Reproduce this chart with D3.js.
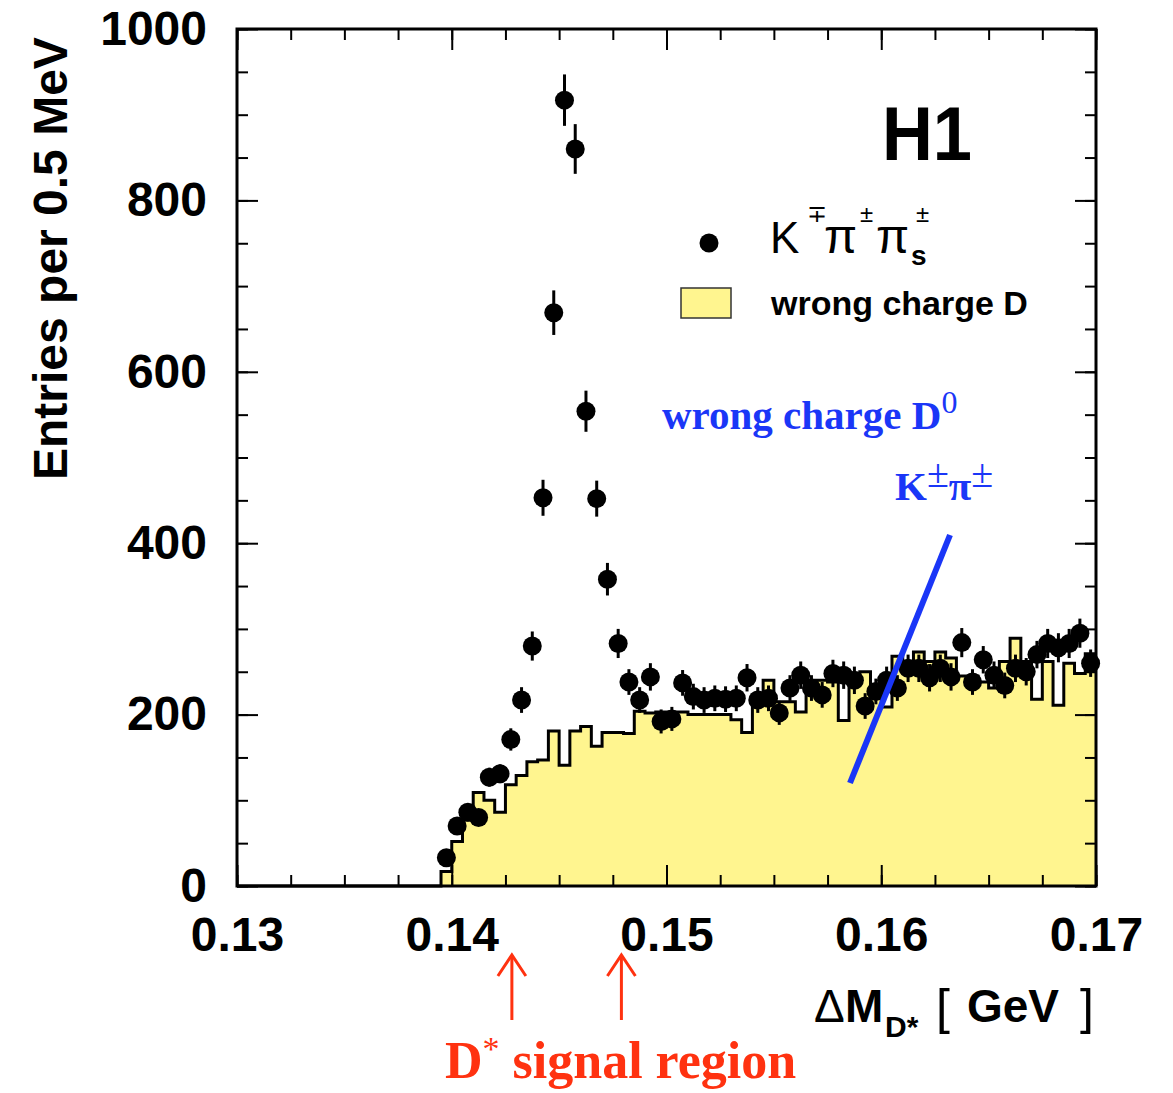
<!DOCTYPE html>
<html>
<head>
<meta charset="utf-8">
<script src="https://cdn.jsdelivr.net/npm/d3@7"></script>
<style>
  html, body { margin: 0; padding: 0; background: #fff; }
  svg { display: block; }
</style>
</head>
<body>
<svg id="chart" width="1173" height="1093"></svg>
<script>
// ΔM(D*) spectrum in 0.5 MeV bins, first bin starting at 0.1395 GeV
const binStart = 0.1395;
const binWidth = 0.0005;

// right-charge K∓π±πs± candidates per bin
const rightCharge = [
  33, 70, 86, 80, 127, 131, 171, 217, 280, 453,
  669, 917, 860, 554, 452, 358, 283, 238, 217, 244,
  192, 195, 237, 221, 217, 219, 218, 219, 243, 217,
  219, 202, 231, 246, 231, 223, 248, 246, 240, 210,
  227, 240, 231, 254, 254, 243, 254, 244, 284, 238,
  264, 246, 234, 254, 250, 270, 283, 278, 283, 295,
  260
];
// statistical uncertainty of each bin
const rightChargeErr = [
  6, 8, 9, 9, 11, 11, 13, 15, 17, 21,
  26, 30, 29, 24, 21, 19, 17, 15, 15, 16,
  14, 14, 15, 15, 15, 15, 15, 15, 16, 15,
  15, 14, 15, 16, 15, 15, 16, 16, 16, 15,
  15, 16, 15, 16, 16, 16, 16, 16, 17, 15,
  16, 16, 15, 16, 16, 16, 17, 17, 17, 17,
  16
];
// wrong-charge D0 (K±π±) combinations per bin
const wrongCharge = [
  17, 52, 77, 109, 100, 86, 118, 129, 145, 147,
  181, 141, 181, 186, 163, 179, 179, 178, 204, 202,
  203, 203, 203, 200, 200, 200, 200, 194, 179, 220,
  240, 215, 215, 203, 240, 240, 238, 193, 245, 250,
  228, 209, 268, 262, 273, 262, 273, 266, 245, 245,
  238, 231, 262, 289, 262, 218, 262, 211, 260, 248,
  271
];

const xTickLabels = [0.13, 0.14, 0.15, 0.16, 0.17];
const yTickLabels = [0, 200, 400, 600, 800, 1000];
const xMinorStep = 0.0025;
const yMinorStep = 50;
// D* signal window marked below the axis
const signalRegion = [0.1428, 0.1479];

const sans = "'Liberation Sans', Arial, Helvetica, sans-serif";
const serif = "'Liberation Serif', 'Times New Roman', serif";
const yellow = "#fff58f";
const blue = "#1a36f7";
const red = "#ff3210";

const svg = d3.select("#chart");
const plot = { left: 237, right: 1096, top: 29, bottom: 886 };

const x = d3.scaleLinear().domain([0.13, 0.17]).range([plot.left, plot.right]);
const y = d3.scaleLinear().domain([0, 1000]).range([plot.bottom, plot.top]);

// ---- wrong-charge histogram ----
const lastBin = wrongCharge.length - 1;
const histPts = wrongCharge.map((v, i) => [binStart + i * binWidth, v]);
histPts.push([binStart + wrongCharge.length * binWidth, wrongCharge[lastBin]]);

svg.append("path")
  .datum(histPts)
  .attr("fill", yellow)
  .attr("d", d3.area().curve(d3.curveStepAfter)
    .x(d => x(d[0])).y0(y(0)).y1(d => y(d[1])));

const outlinePts = [[0.13, 0], [binStart, 0]].concat(histPts);
svg.append("path")
  .datum(outlinePts)
  .attr("fill", "none")
  .attr("stroke", "#000")
  .attr("stroke-width", 3)
  .attr("d", d3.line().curve(d3.curveStepAfter).x(d => x(d[0])).y(d => y(d[1])));

// ---- axes: ticks on all four sides, pointing inwards ----
const xMinor = d3.range(0, Math.round(0.04 / xMinorStep) + 1).map(i => 0.13 + i * xMinorStep);
const yMinor = d3.range(0, 1000 + 1, yMinorStep);

function styleAxis(g) {
  g.select(".domain").remove();
  g.selectAll(".tick line").attr("stroke", "#000").attr("stroke-width", 2);
  g.selectAll(".tick text")
    .attr("fill", "#000")
    .attr("font-family", sans)
    .attr("font-weight", "bold")
    .attr("font-size", 48);
}

svg.append("g").attr("transform", `translate(0,${plot.bottom})`)
  .call(d3.axisBottom(x).tickValues(xMinor).tickSize(-11).tickFormat(""))
  .call(styleAxis);
svg.append("g").attr("transform", `translate(0,${plot.bottom})`)
  .call(d3.axisBottom(x).tickValues(xTickLabels).tickSize(-21).tickPadding(31).tickFormat(d3.format(".2f")))
  .call(styleAxis);
svg.append("g").attr("transform", `translate(0,${plot.top})`)
  .call(d3.axisTop(x).tickValues(xMinor).tickSize(-11).tickFormat(""))
  .call(styleAxis);
svg.append("g").attr("transform", `translate(0,${plot.top})`)
  .call(d3.axisTop(x).tickValues(xTickLabels).tickSize(-21).tickFormat(""))
  .call(styleAxis);

svg.append("g").attr("transform", `translate(${plot.left},0)`)
  .call(d3.axisLeft(y).tickValues(yMinor).tickSize(-11).tickFormat(""))
  .call(styleAxis);
svg.append("g").attr("transform", `translate(${plot.left},0)`)
  .call(d3.axisLeft(y).tickValues(yTickLabels).tickSize(-21).tickPadding(30).tickFormat(d3.format("d")))
  .call(styleAxis);
svg.append("g").attr("transform", `translate(${plot.right},0)`)
  .call(d3.axisRight(y).tickValues(yMinor).tickSize(-11).tickFormat(""))
  .call(styleAxis);
svg.append("g").attr("transform", `translate(${plot.right},0)`)
  .call(d3.axisRight(y).tickValues(yTickLabels).tickSize(-21).tickFormat(""))
  .call(styleAxis);

// frame
svg.append("rect")
  .attr("x", plot.left).attr("y", plot.top)
  .attr("width", plot.right - plot.left).attr("height", plot.bottom - plot.top)
  .attr("fill", "none").attr("stroke", "#000").attr("stroke-width", 3);

// ---- right-charge data points with error bars ----
const pts = rightCharge.map((v, i) => ({ m: binStart + (i + 0.5) * binWidth, n: v, e: rightChargeErr[i] }));
const dataG = svg.append("g");
dataG.selectAll("line.err").data(pts).join("line")
  .attr("class", "err")
  .attr("x1", d => x(d.m)).attr("x2", d => x(d.m))
  .attr("y1", d => y(d.n - d.e)).attr("y2", d => y(d.n + d.e))
  .attr("stroke", "#000").attr("stroke-width", 3);
dataG.selectAll("circle").data(pts).join("circle")
  .attr("cx", d => x(d.m)).attr("cy", d => y(d.n)).attr("r", 9.5)
  .attr("fill", "#000");

// ---- experiment label ----
svg.append("text").attr("x", 882).attr("y", 160)
  .attr("font-family", sans).attr("font-weight", "bold").attr("font-size", 76)
  .attr("textLength", 90).attr("lengthAdjust", "spacingAndGlyphs")
  .text("H1");

// ---- legend ----
svg.append("circle").attr("cx", 709).attr("cy", 243).attr("r", 9.5).attr("fill", "#000");
const legendParts = [
  { t: "K", x: 770, y: 253, s: 44, w: "normal" },
  { t: "∓", x: 807, y: 222, s: 24, w: "normal" },
  { t: "π", x: 824, y: 253, s: 48, w: "normal" },
  { t: "±", x: 860, y: 222, s: 24, w: "normal" },
  { t: "π", x: 876, y: 253, s: 48, w: "normal" },
  { t: "s", x: 911, y: 265, s: 28, w: "bold" },
  { t: "±", x: 916, y: 222, s: 24, w: "normal" }
];
svg.append("g").selectAll("text").data(legendParts).join("text")
  .attr("x", d => d.x).attr("y", d => d.y)
  .attr("font-family", sans).attr("font-size", d => d.s).attr("font-weight", d => d.w)
  .text(d => d.t);

svg.append("rect").attr("x", 681).attr("y", 288).attr("width", 50).attr("height", 30)
  .attr("fill", yellow).attr("stroke", "#333").attr("stroke-width", 1.5);
svg.append("text").attr("x", 771).attr("y", 315)
  .attr("font-family", sans).attr("font-weight", "bold").attr("font-size", 34)
  .text("wrong charge D");

// ---- blue annotation ----
const ann = svg.append("text").attr("x", 662).attr("y", 429)
  .attr("font-family", serif).attr("font-weight", "bold").attr("font-size", 41).attr("fill", blue);
ann.append("tspan").text("wrong charge D");
ann.append("tspan").attr("font-weight", "normal").attr("font-size", 32).attr("dy", -16).text("0");

const kpi = svg.append("text").attr("x", 895).attr("y", 500)
  .attr("font-family", serif).attr("font-weight", "bold").attr("font-size", 41).attr("fill", blue);
kpi.append("tspan").text("K");
kpi.append("tspan").attr("font-weight", "normal").attr("font-size", 40).attr("dy", -13).text("±");
kpi.append("tspan").attr("font-size", 41).attr("dy", 13).text("π");
kpi.append("tspan").attr("font-weight", "normal").attr("font-size", 40).attr("dy", -13).text("±");

svg.append("line")
  .attr("x1", 850).attr("y1", 783).attr("x2", 950).attr("y2", 535)
  .attr("stroke", blue).attr("stroke-width", 6);

// ---- axis titles ----
svg.append("text")
  .attr("transform", "translate(67,480) rotate(-90)")
  .attr("font-family", sans).attr("font-weight", "bold").attr("font-size", 48)
  .text("Entries per 0.5 MeV");

const xt = svg.append("g").attr("font-family", sans).attr("font-size", 46);
xt.append("text").attr("x", 814).attr("y", 1022).text("Δ");
xt.append("text").attr("x", 845).attr("y", 1022).attr("font-weight", "bold").text("M");
xt.append("text").attr("x", 885).attr("y", 1037).attr("font-weight", "bold").attr("font-size", 30).text("D*");
xt.append("text").attr("x", 936).attr("y", 1024).attr("font-size", 50).text("[");
xt.append("text").attr("x", 967).attr("y", 1022).attr("font-weight", "bold").text("GeV");
xt.append("text").attr("x", 1080).attr("y", 1024).attr("font-size", 50).text("]");

// ---- signal region arrows ----
const arrows = svg.append("g").attr("stroke", red).attr("stroke-width", 3).attr("fill", "none");
signalRegion.forEach(m => {
  const ax = x(m);
  arrows.append("line").attr("x1", ax).attr("x2", ax).attr("y1", 1020).attr("y2", 955);
  arrows.append("polyline").attr("points", `${ax - 14},976 ${ax},955 ${ax + 14},976`);
});

const sig = svg.append("text").attr("x", 445).attr("y", 1078)
  .attr("font-family", serif).attr("font-weight", "bold").attr("font-size", 52).attr("fill", red);
sig.append("tspan").text("D");
sig.append("tspan").attr("font-size", 34).attr("font-weight", "normal").attr("dy", -18).text("*");
sig.append("tspan").attr("dy", 18).text(" signal region");
</script>
</body>
</html>
